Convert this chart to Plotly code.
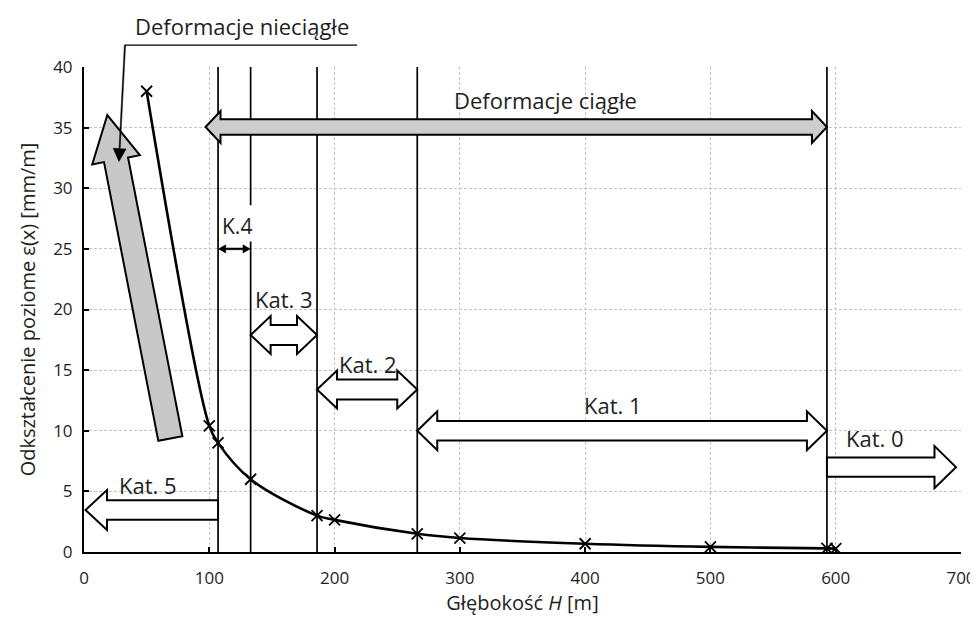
import plotly.graph_objects as go

# ---------------- data ----------------
depth_H = [50, 100, 107, 133, 186, 200, 266, 300, 400, 500, 593, 600]
strain_eps = [38.0, 10.4, 9.0, 6.0, 3.0, 2.65, 1.5, 1.15, 0.68, 0.42, 0.30, 0.28]

# category boundaries (depth H)
boundary_H = [107, 133, 186, 266, 593]

x_ticks = [0, 100, 200, 300, 400, 500, 600, 700]
y_ticks = [0, 5, 10, 15, 20, 25, 30, 35, 40]

cat_labels = ["K.4", "Kat. 3", "Kat. 2", "Kat. 1", "Kat. 0", "Kat. 5"]

# ---------------- layout geometry ----------------
# (page body has an 8px margin, so the figure is made 8px smaller)
W, HGT = 970, 616
ML, MR, MT, MB = 76, 17, 59, 72
XR = (0, 700)
YR = (0, 40)
SX = (W - ML - MR) / (XR[1] - XR[0])
SY = (HGT - MT - MB) / (YR[1] - YR[0])

FONT = "Open Sans"
TXT = "#1e1e1e"


def block_arrow(p0, p1, shaft, head, hlen, double=False, paper=False):
    x0, y0 = p0[0] * SX, p0[1] * SY
    x1, y1 = p1[0] * SX, p1[1] * SY
    dx, dy = x1 - x0, y1 - y0
    L = (dx * dx + dy * dy) ** 0.5
    ux, uy = dx / L, dy / L
    nx, ny = -uy, ux

    def P(bx, by, along, side):
        return (bx + ux * along + nx * side, by + uy * along + ny * side)

    pts = []
    if double:
        pts.append((x0, y0))
        pts.append(P(x0, y0, hlen, head / 2))
        pts.append(P(x0, y0, hlen, shaft / 2))
    else:
        pts.append(P(x0, y0, 0, shaft / 2))
    pts.append(P(x1, y1, -hlen, shaft / 2))
    pts.append(P(x1, y1, -hlen, head / 2))
    pts.append((x1, y1))
    pts.append(P(x1, y1, -hlen, -head / 2))
    pts.append(P(x1, y1, -hlen, -shaft / 2))
    if double:
        pts.append(P(x0, y0, hlen, -shaft / 2))
        pts.append(P(x0, y0, hlen, -head / 2))
    else:
        pts.append(P(x0, y0, 0, -shaft / 2))

    def conv(x, y):
        hx, hy = x / SX, y / SY
        if paper:
            return (hx - XR[0]) / (XR[1] - XR[0]), (hy - YR[0]) / (YR[1] - YR[0])
        return hx, hy

    cp = [conv(x, y) for x, y in pts]
    return "M " + " L ".join(f"{a:.5f},{b:.5f}" for a, b in cp) + " Z"


fig = go.Figure()

fig.add_trace(go.Scatter(
    x=depth_H, y=strain_eps, mode="lines+markers",
    line=dict(color="black", width=2.6, shape="spline", smoothing=1.0),
    marker=dict(symbol="x-thin", size=11, line=dict(color="black", width=1.8)),
    showlegend=False, hoverinfo="x+y",
))

shapes = []
# vertical category boundary lines (K.4 boundary interrupted by its label)
for hb in boundary_H:
    if hb == boundary_H[1]:
        segs = [(YR[0], 25.6), (28.6, YR[1])]
    else:
        segs = [(YR[0], YR[1])]
    for a, b in segs:
        shapes.append(dict(type="line", xref="x", yref="y", x0=hb, x1=hb, y0=a, y1=b,
                           line=dict(color="black", width=1.7)))

OUT = dict(color="black", width=2)
GRAY = "#cdcdcd"

# big "Deformacje ciągłe" double arrow
shapes.append(dict(type="path", xref="x", yref="y",
                   path=block_arrow((97, 35.05), (boundary_H[4], 35.05), 15.5, 32, 15, double=True),
                   fillcolor=GRAY, line=OUT))
# slanted "Deformacje nieciągłe" arrow
shapes.append(dict(type="path", xref="x", yref="y",
                   path=block_arrow((68.9, 9.36), (18.6, 36.04), 24.5, 48.5, 45.6),
                   fillcolor="#c8c8c8", line=OUT))
# category block arrows
shapes.append(dict(type="path", xref="x", yref="y",
                   path=block_arrow((boundary_H[1], 17.9), (boundary_H[2], 17.9), 20, 38, 20, double=True),
                   fillcolor="white", line=OUT))
shapes.append(dict(type="path", xref="x", yref="y",
                   path=block_arrow((boundary_H[2], 13.4), (boundary_H[3], 13.4), 20, 38, 20, double=True),
                   fillcolor="white", line=OUT))
shapes.append(dict(type="path", xref="x", yref="y",
                   path=block_arrow((boundary_H[3], 10.0), (boundary_H[4], 10.0), 19.5, 39, 20, double=True),
                   fillcolor="white", line=OUT))
shapes.append(dict(type="path", xref="x", yref="y",
                   path=block_arrow((boundary_H[4], 7.0), (696, 7.0), 19.5, 42, 21.5),
                   fillcolor="white", line=OUT))
shapes.append(dict(type="path", xref="x", yref="y",
                   path=block_arrow((boundary_H[0], 3.46), (1.2, 3.46), 19.5, 40, 21.5),
                   fillcolor="white", line=OUT))
# K.4 thin double arrow
shapes.append(dict(type="path", xref="x", yref="y",
                   path=block_arrow((boundary_H[0] + 0.5, 25.0), (boundary_H[1] - 0.5, 25.0), 1.6, 8, 7, double=True),
                   fillcolor="black", line=dict(color="black", width=0.6)))
# leader for "Deformacje nieciągłe" (outside plot -> paper coords)
shapes.append(dict(type="line", xref="paper", yref="paper",
                   x0=32.7 / 700, x1=218 / 700, y0=41.81 / 40, y1=41.81 / 40,
                   line=dict(color="black", width=1.2)))
shapes.append(dict(type="path", xref="paper", yref="paper",
                   path=block_arrow((32.7, 41.81), (27.9, 32.2), 1.2, 13, 13, paper=True),
                   fillcolor="black", line=dict(color="black", width=0.5)))

annotations = []


def txt(x, y, s, size=22, paper=False):
    if paper:
        annotations.append(dict(x=x / XR[1], y=y / YR[1], xref="paper", yref="paper", text=s,
                                showarrow=False, font=dict(family=FONT, size=size, color=TXT),
                                xanchor="center", yanchor="middle"))
    else:
        annotations.append(dict(x=x, y=y, xref="x", yref="y", text=s, showarrow=False,
                                font=dict(family=FONT, size=size, color=TXT),
                                xanchor="center", yanchor="middle"))


txt(125.8, 43.35, "Deformacje nieciągłe", paper=True)
txt(368.7, 37.3, "Deformacje ciągłe")
txt(122.1, 26.9, cat_labels[0], size=21)
txt(159.8, 20.9, cat_labels[1])
txt(226.7, 15.5, cat_labels[2])
txt(422.2, 12.1, cat_labels[3])
txt(631.3, 9.4, cat_labels[4])
txt(50.7, 5.55, cat_labels[5])

axis_common = dict(
    showline=True, linecolor="black", linewidth=2,
    ticks="inside", ticklen=5, tickwidth=1.5, tickcolor="black",
    showgrid=True, gridcolor="#c4c4c4", griddash="3px,2px", gridwidth=1,
    zeroline=False, automargin=False,
    tickfont=dict(family=FONT, size=17, color=TXT),
)

fig.update_layout(
    width=W, height=HGT,
    margin=dict(l=ML, r=MR, t=MT, b=MB),
    paper_bgcolor="white", plot_bgcolor="white",
    shapes=shapes, annotations=annotations,
    xaxis=dict(range=list(XR), tickvals=x_ticks, ticklabelstandoff=10,
               title=dict(text="Głębokość <i>H</i> [m]", font=dict(family=FONT, size=20, color=TXT), standoff=8),
               **axis_common),
    yaxis=dict(range=list(YR), tickvals=y_ticks, ticklabelstandoff=6,
               title=dict(text="Odkształcenie poziome ε(x) [mm/m]", font=dict(family=FONT, size=20, color=TXT), standoff=12),
               **axis_common),
)

fig.write_html("out.html")
